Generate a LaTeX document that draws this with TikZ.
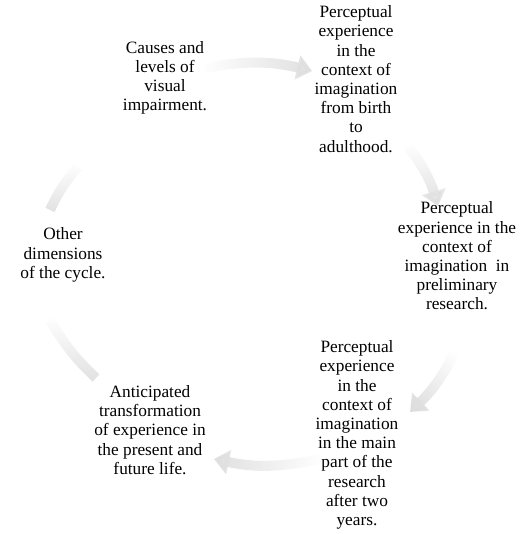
\documentclass[tikz,border=0pt]{standalone}
\usepackage{fontspec}
\setmainfont{Liberation Serif}
\usetikzlibrary{arrows.meta,fadings}

\begin{document}
\begin{tikzpicture}[x=1pt,y=1pt,
  stage/.style={align=center,inner sep=0pt,font=\fontsize{17.3}{19.2}\selectfont},
  cyc/.style={line width=10pt,black!13,-{Triangle[width=24pt,length=15pt]}},
  cycend/.style={line width=10pt,black!12}]
\useasboundingbox (0,0) rectangle (527,534);

\node[stage] (causes) at (165,456) {Causes and\\levels of\\visual\\impairment.};
\node[stage] (birth) at (356,455) {Perceptual\\experience\\in the\\context of\\imagination\\from birth\\to\\adulthood.};
\node[stage] (prelim) at (457,278) {Perceptual\\experience in the\\context of\\imagination~ in\\preliminary\\research.};
\node[stage] (mainpart) at (357,99) {Perceptual\\experience\\in the\\context of\\imagination\\in the main\\part of the\\research\\after two\\years.};
\node[stage] (future) at (150,104) {Anticipated\\transformation\\of experience in\\the present and\\future life.};
\node[stage] (other) at (63,279) {Other\\dimensions\\of the cycle.};

\coordinate (a1) at (205,466);
\coordinate (b1) at (312,463);
\coordinate (a2) at (408,388);
\coordinate (b2) at (438,328);
\coordinate (a3) at (458,188);
\coordinate (b3) at (410,122);
\coordinate (a4) at (320,75);
\coordinate (b4) at (214,75);
\coordinate (a5) at (96,156);
\coordinate (b5) at (50,214);
\coordinate (a6) at (50,324);
\coordinate (b6) at (78,367);

\draw[cyc,path fading=west] (a1) to[bend left=12] (b1);
\draw[cyc,path fading=north] (a2) to[bend left=10] (b2);
\draw[cyc,path fading=north,fading angle=-35] (a3) to[bend left=10] (b3);
\draw[cyc,path fading=east] (a4) to[bend left=12] (b4);
\draw[cycend,path fading=north] (a5) to[bend left=8] (b5);
\draw[cycend,path fading=north] (a6) to[bend left=8] (b6);
\end{tikzpicture}
\end{document}
